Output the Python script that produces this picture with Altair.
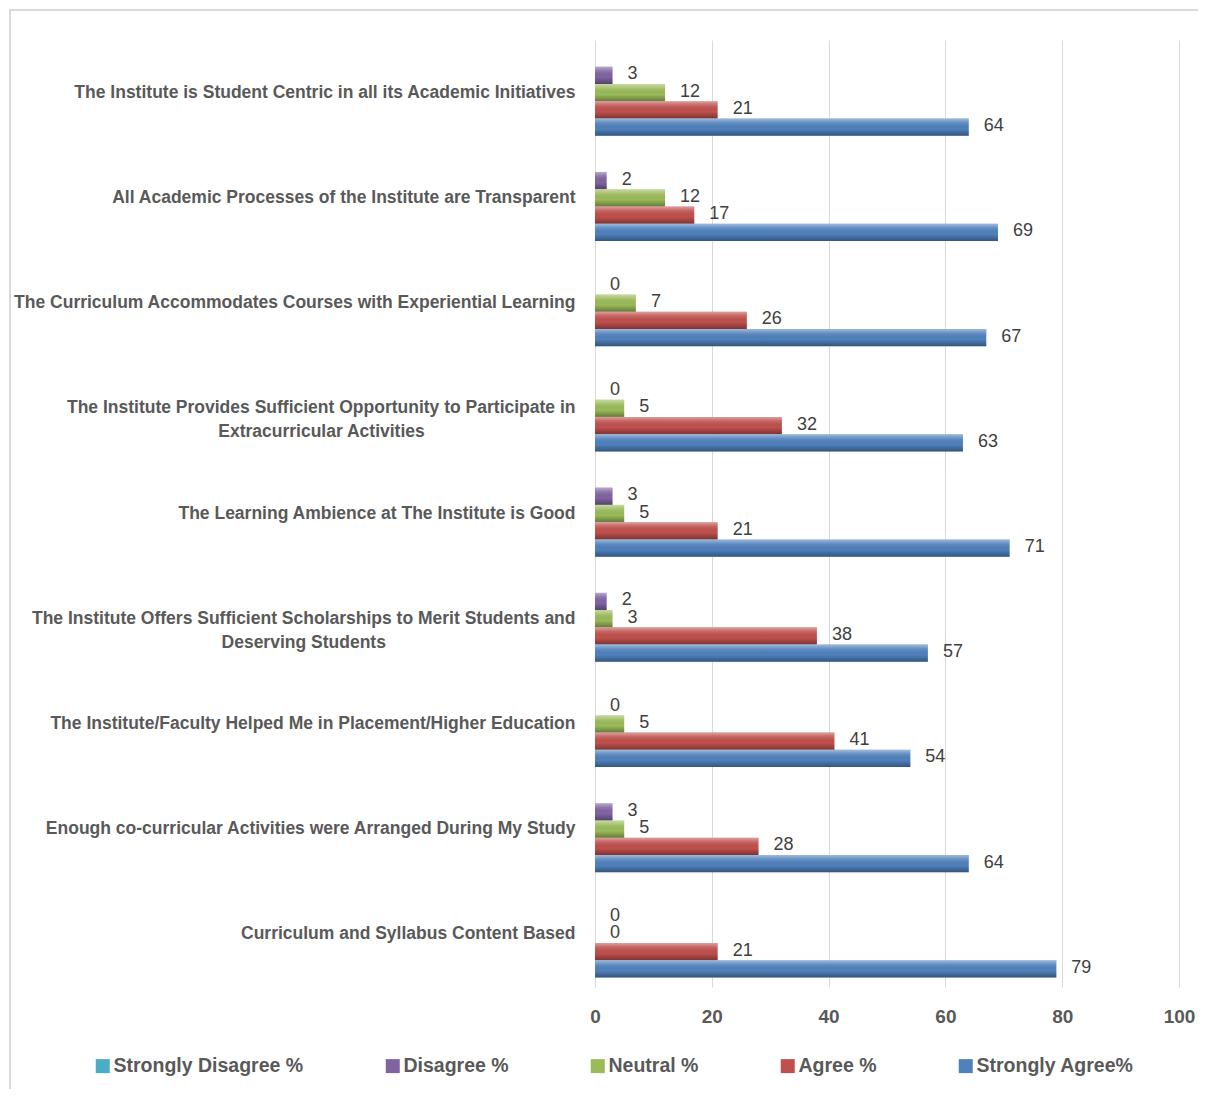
import altair as alt
import pandas as pd

categories = [
    "The Institute is Student Centric in all its Academic Initiatives",
    "All Academic Processes of the Institute are Transparent",
    "The Curriculum Accommodates Courses with Experiential Learning",
    "The Institute Provides Sufficient Opportunity to Participate in Extracurricular Activities",
    "The Learning Ambience at The Institute is Good",
    "The Institute Offers Sufficient Scholarships to Merit Students and Deserving Students",
    "The Institute/Faculty Helped Me in Placement/Higher Education",
    "Enough co-curricular Activities were Arranged During My Study",
    "Curriculum and Syllabus Content Based",
]
NB = "\u00a0"
END = "\u200b"
two_line = {
    "The Institute Provides Sufficient Opportunity to Participate in Extracurricular Activities":
        ["The Institute Provides Sufficient Opportunity to Participate in", "Extracurricular Activities" + NB * 31 + END],
    "The Institute Offers Sufficient Scholarships to Merit Students and Deserving Students":
        ["The Institute Offers Sufficient Scholarships to Merit Students and", "Deserving Students" + NB * 39 + END],
}
series = ["Strongly Disagree %", "Disagree %", "Neutral %", "Agree %", "Strongly Agree%"]
strongly_disagree = [None] * 9
disagree = [3, 2, 0, 0, 3, 2, 0, 3, 0]
neutral = [12, 12, 7, 5, 5, 3, 5, 5, 0]
agree = [21, 17, 26, 32, 21, 38, 41, 28, 21]
strongly_agree = [64, 69, 67, 63, 71, 57, 54, 64, 79]
colors = ["#4BACC6", "#8064A2", "#9BBB59", "#C0504D", "#4F81BD"]

FONT = "Liberation Sans, Arial"
GRAY = "#595959"

rows = []
for i, c in enumerate(categories):
    for s, vals in zip(series, [strongly_disagree, disagree, neutral, agree, strongly_agree]):
        rows.append({"cat": c, "series": s, "value": vals[i]})
df = pd.DataFrame(rows)


def js_str(s):
    return '"' + s.replace('"', '\\"') + '"'


expr = "datum.value"
for k, v in two_line.items():
    expr = f"datum.value == {js_str(k)} ? [{js_str(v[0])}, {js_str(v[1])}] : (" + expr + ")"

y = alt.Y(
    "cat:N", sort=categories,
    scale=alt.Scale(paddingInner=0.18, paddingOuter=0.09),
    axis=alt.Axis(title=None, labelExpr=expr, labelFont=FONT, labelFontSize=17.5,
                  labelFontWeight="bold", labelColor=GRAY, labelPadding=20,
                  labelLimit=700, ticks=False, domain=False, labelLineHeight=24),
)
yo = alt.YOffset("series:N", sort=series, scale=alt.Scale(paddingInner=0, paddingOuter=0))
x = alt.X(
    "value:Q", scale=alt.Scale(domain=[0, 100]),
    axis=alt.Axis(values=[0, 20, 40, 60, 80, 100], title=None, domain=False, ticks=False,
                  gridColor="#d9d9d9", labelFont=FONT, labelFontSize=19, labelFontWeight="bold",
                  labelColor=GRAY, labelPadding=20, labelFlush=False),
)

base = alt.Chart(df).encode(x=x, y=y, yOffset=yo)

bars = base.mark_bar(strokeWidth=0).encode(
    color=alt.Color(
        "series:N", sort=series, scale=alt.Scale(domain=series, range=colors),
        legend=alt.Legend(orient="none", legendX=-502, legendY=1016, direction="horizontal",
                          title=None, symbolType="square", symbolSize=196, symbolStrokeWidth=0,
                          symbolOpacity=1, labelFont=FONT, labelFontSize=19.5, labelFontWeight="bold",
                          labelColor=GRAY, columnPadding=79, labelOffset=1, labelLimit=400),
    )
)

shade = base.mark_bar(
    color=alt.Gradient(
        gradient="linear", x1=0, y1=0, x2=0, y2=1,
        stops=[
            alt.GradientStop(offset=0, color="rgba(255,255,255,0.45)"),
            alt.GradientStop(offset=0.22, color="rgba(255,255,255,0.15)"),
            alt.GradientStop(offset=0.6, color="rgba(0,0,0,0.0)"),
            alt.GradientStop(offset=1, color="rgba(0,0,0,0.35)"),
        ],
    ),
    strokeWidth=0,
)

labels = base.transform_filter(
    "datum.series != 'Strongly Disagree %' && isValid(datum.value)"
).mark_text(align="left", baseline="middle", dx=15, dy=-1, font=FONT, fontSize=18,
            color="#404040").encode(text=alt.Text("value:Q", format="d"))

frame_df = pd.DataFrame({"k": [0]})
frame_left = alt.Chart(frame_df).mark_rule(color="#d9d9d9", strokeWidth=2).encode(
    x=alt.value(-585), y=alt.value(-30), y2=alt.value(1080))
frame_top = alt.Chart(frame_df).mark_rule(color="#d9d9d9", strokeWidth=2).encode(
    x=alt.value(-586), x2=alt.value(620), y=alt.value(-30))

chart = alt.layer(frame_left, frame_top, bars, shade, labels).properties(
    width=584, height=947, autosize="none",
    padding={"left": 587, "top": 32, "right": 19, "bottom": 102},
).configure_view(strokeWidth=0)

chart.save("out.html", embed_options={"renderer": "svg", "actions": False})
